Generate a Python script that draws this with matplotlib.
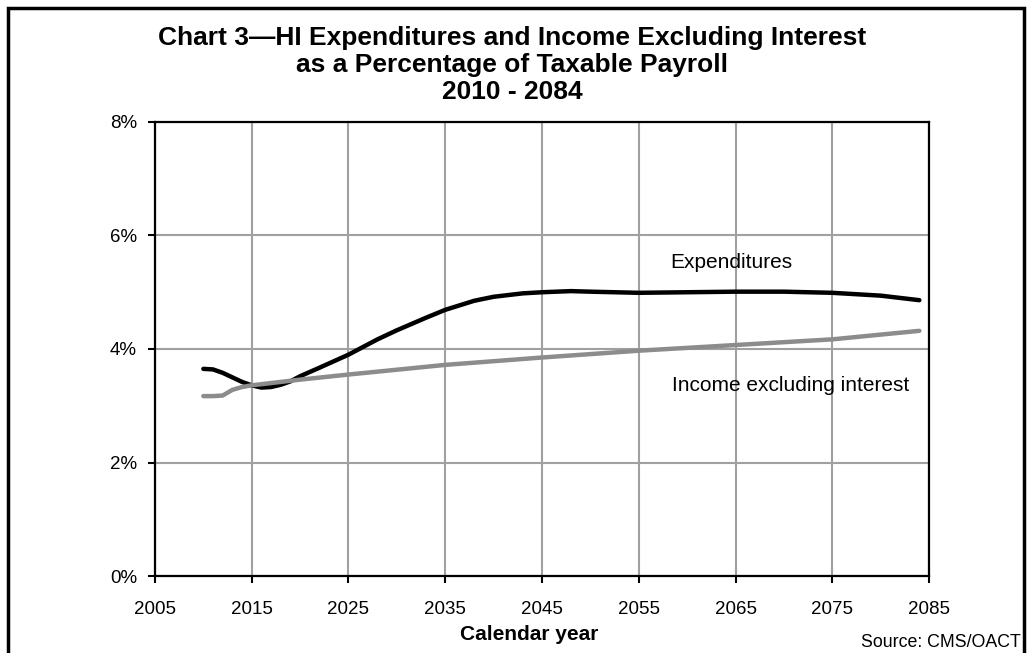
import matplotlib.pyplot as plt
from matplotlib.patches import Rectangle
from matplotlib.ticker import FuncFormatter

plt.rcParams['font.family'] = ['Liberation Sans', 'DejaVu Sans']

# values (percent of taxable payroll)
exp_years = [2010, 2011, 2012, 2013, 2014, 2015, 2016, 2017, 2018, 2019, 2020, 2022,
             2025, 2028, 2030, 2033, 2035, 2038, 2040, 2043, 2045, 2048, 2050, 2055,
             2060, 2065, 2070, 2075, 2080, 2084]
expenditures = [3.65, 3.64, 3.58, 3.50, 3.42, 3.36, 3.32, 3.33, 3.37, 3.43, 3.52, 3.67,
                3.90, 4.17, 4.33, 4.55, 4.69, 4.85, 4.92, 4.98, 5.00, 5.02, 5.01, 4.99,
                5.00, 5.01, 5.01, 4.99, 4.94, 4.86]

inc_years = [2010, 2011, 2012, 2013, 2014, 2015, 2020, 2025, 2035, 2045, 2055, 2065, 2075, 2084]
income = [3.17, 3.17, 3.18, 3.28, 3.33, 3.36, 3.46, 3.55, 3.72, 3.85, 3.97, 4.07, 4.17, 4.32]

x_ticks = list(range(2005, 2086, 10))
y_ticks = [0, 2, 4, 6, 8]

fig = plt.figure(figsize=(10.31, 6.53), dpi=100)
ax = fig.add_axes([0.1503, 0.1179, 0.7508, 0.6953])

ax.plot(exp_years, expenditures, color='black', lw=3.2, solid_capstyle='round', zorder=3)
ax.plot(inc_years, income, color='#8c8c8c', lw=3.2, solid_capstyle='round', zorder=3)

ax.set_xlim(2005, 2085)
ax.set_ylim(0, 8)
ax.set_xticks(x_ticks)
ax.set_yticks(y_ticks)
ax.yaxis.set_major_formatter(FuncFormatter(lambda v, p: f'{v:.0f}%'))
ax.grid(True, color='#a0a0a0', lw=1.5)
ax.set_axisbelow(True)
for s in ax.spines.values():
    s.set_linewidth(1.6)
ax.tick_params(direction='out', length=5, width=1.5, labelsize=13.5, pad=8)
ax.tick_params(axis='x', pad=13)

ax.text(2064.6, 5.53, 'Expenditures', fontsize=15, ha='center', va='center')
ax.text(2058.4, 3.35, 'Income excluding interest', fontsize=15, ha='left', va='center')

title_lines = ['Chart 3\u2014HI Expenditures and Income Excluding Interest',
               'as a Percentage of Taxable Payroll',
               '2010 - 2084']
for line, yy in zip(title_lines, [0.942, 0.900, 0.859]):
    fig.text(0.497, yy, line, fontweight='bold', fontsize=19, ha='center', va='center')

fig.text(0.513, 0.029, 'Calendar year', fontsize=15, fontweight='bold',
         ha='center', va='center')
fig.text(0.99, 0.016, 'Source: CMS/OACT', fontsize=12.8, ha='right', va='center')

fig.patches.append(Rectangle((8 / 1031, -0.05), 1016 / 1031, 1.05 - 8 / 653,
                             transform=fig.transFigure, fill=False,
                             edgecolor='black', lw=2.5))

fig.savefig('out.png', dpi=100)
